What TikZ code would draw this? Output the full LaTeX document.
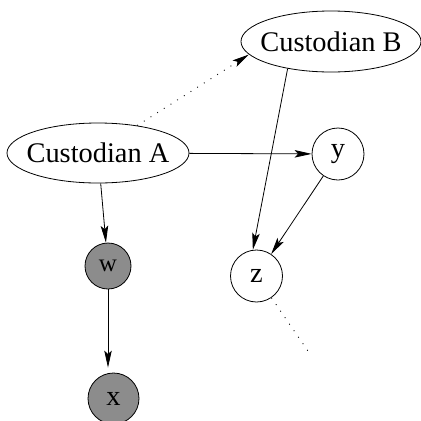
\documentclass[tikz,border=0pt]{standalone}
\usepackage{fontspec}
\setmainfont{Liberation Serif}
\usetikzlibrary{shapes.geometric,arrows.meta}
\definecolor{nodegray}{RGB}{140,140,140}
\begin{document}
\begin{tikzpicture}[x=1pt,y=-1pt,
  every node/.style={font=\fontsize{28.4}{34}\selectfont, inner sep=0pt, line width=0.8pt},
  ell/.style={draw, ellipse, inner xsep=-8pt},
  circ/.style={draw, circle},
  obs/.style={circ, fill=nodegray},
  tip/.style={-{Stealth[length=17pt,width=7.5pt,inset=3.5pt]}},
  edge/.style={line width=0.8pt, tip},
  dotline/.style={line width=0.9pt, dash pattern=on 0.9pt off 7pt}
]
\useasboundingbox (0,0) rectangle (421,421);
\node[ell, minimum width=182pt, minimum height=60pt] (A) at (98,153) {Custodian A};
\node[ell, minimum width=180pt, minimum height=61pt] (B) at (331,41.5) {Custodian B};
\node[circ, minimum size=52pt] (y) at (338,154) {y};
\node[circ, minimum size=52pt] (z) at (256.5,276) {z};
\node[obs, minimum size=46pt, font=\fontsize{25}{30}\selectfont] (w) at (108,266) {w};
\node[obs, minimum size=51pt] (x) at (113.5,398.5) {x};
\coordinate (zend) at (310,354);

\draw[dotline, tip] (A.35.5) -- (B.189);
\draw[edge] (A) -- (y);
\draw[edge] (A) -- (w);
\draw[edge, shorten >=5pt] (w.south) -- (w.south |- x.north);
\draw[edge] (B.212) -- (z.98);
\draw[edge] (y) -- (z);
\draw[dotline] (z) -- (zend);
\end{tikzpicture}
\end{document}
